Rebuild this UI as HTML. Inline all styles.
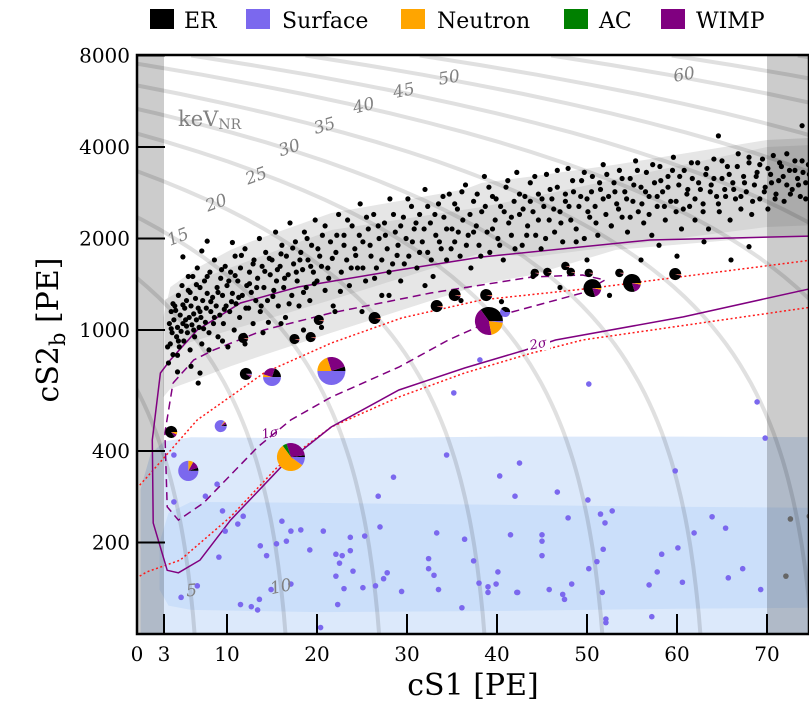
<!DOCTYPE html>
<html><head><meta charset="utf-8"><style>
html,body{margin:0;padding:0;background:#fff;}
svg{display:block;font-family:"DejaVu Serif","Liberation Serif",serif;}
</style></head><body>
<svg id="chart" width="809" height="710" viewBox="0 0 809 710" xmlns="http://www.w3.org/2000/svg">
<defs><clipPath id="plotclip"><rect x="137" y="55" width="672" height="579"/></clipPath></defs>
<g id="legend">
 <g><rect x="150" y="9" width="24" height="20" fill="#000"/><text x="184" y="28" font-size="22">ER</text></g>
 <g><rect x="246" y="9" width="24" height="20" fill="#7b68ee"/><text x="282" y="28" font-size="22">Surface</text></g>
 <g><rect x="401" y="9" width="24" height="20" fill="#ffa500"/><text x="437" y="28" font-size="22">Neutron</text></g>
 <g><rect x="564" y="9" width="24" height="20" fill="#008000"/><text x="599" y="28" font-size="22">AC</text></g>
 <g><rect x="661" y="9" width="24" height="20" fill="#800080"/><text x="696" y="28" font-size="22">WIMP</text></g>
</g>
<g id="plot" clip-path="url(#plotclip)"></g>
<rect x="137" y="55" width="672" height="579" fill="none" stroke="#000" stroke-width="2.5"/>
<g id="axes"></g>
<text x="473" y="695" font-size="30" text-anchor="middle">cS1 [PE]</text>
<text transform="translate(58,330) rotate(-90)" font-size="30" text-anchor="middle">cS2<tspan font-size="21" dy="7">b</tspan><tspan dy="-7"> [PE]</tspan></text>
</svg>
<script>
// ---------- data ----------
const xTicks = [0,3,10,20,30,40,50,60,70];
const yTicks = [200,400,1000,2000,4000,8000];
const energyKeV = [5,10,15,20,25,30,35,40,45,50,55,60,65,70,75,80];
const energyOffset = [7.6,17.7,28.1,39.8,52.9,63.8,76.2,89.8,101.6,114.3,127,141.6,155,169,183,197];
const erOuterX = [2.9,3.7,6.7,10.4,12.6,21.6,36.4,38.3,43.9,53.2,70,75];
const erOuterTop = [1100,1384,1600,1834,1950,2426,2900,3046,3200,3500,4217,4283];
const erOuterBot = [600,640,690,760,800,980,1355,1420,1517,1834,2023,2043];
const erInnerX = [3.1,6.7,21.6,38.3,43.9,70,75];
const erInnerTop = [1256,1460,2133,2539,2738,4000,4060];
const erInnerBot = [859,927,1256,1792,1738,2182,2210];
const surfOuterX = [0.4,1.5,3,6,20,40,60,75];
const surfOuterTop = [300,390,430,444,440,446,446,444];
const surfOuterBot = [80,80,80,80,80,80,80,80];
const surfInnerX = [2.5,3.5,6,20,40,60,75];
const surfInnerTop = [200,250,272,270,266,262,260];
const surfInnerBot = [140,124,120,118,119,121,122];
const sig2X = [75.1,57,38.3,29.1,17.9,11.5,6.7,3.7,2.6,1.7,1.8,3.35,4.6,7.0,10.4,16.0,21.6,29.1,36.4,43.1,46.5,60.7,75.1];
const sig2Y = [2038,1977,1738,1575,1385,1227,1000,797,722,435,232,162,159,175,237,354,480,635,750,859,927,1104,1374];
const sig1X = [4.0,6.3,8.5,14.1,21.6,32.7,43.9,49.5,52.0,49.5,41.3,34.6,29.1,21.6,17.1,13.4,7.4,4.6,3.35,3.1,4.0];
const sig1Y = [669,797,859,1000,1138,1324,1494,1517,1460,1324,1138,927,755,602,506,412,270,237,262,459,669];
const redUpX = [0.3,1.1,6.7,14.1,21.6,29.4,38.3,50.6,75.1];
const redUpY = [309,328,506,722,906,1095,1256,1374,1700];
const redLoX = [0.3,1.1,4.8,10.4,15.6,21.6,29.1,36.4,43.9,49.5,75.1];
const redLoY = [155,160,175,243,354,480,602,722,840,927,1191];
const surfacePts = [[4.1,388],[8.9,311],[7.6,284],[4.1,272],[9.5,254],[11.8,244],[11.2,230],[9.8,218],[16.1,235],[17.1,218],[18.2,220],[20.7,218],[13.7,195],[15.5,198],[16.6,202],[14.4,181],[9.1,179],[19.2,189],[22.1,183],[22.8,181],[23.7,188],[23.7,208],[25.3,210],[22.5,171],[24.0,161],[22.1,155],[27.4,152],[27.8,159],[26.5,144],[25.1,142],[23.0,141],[27.0,225],[26.8,284],[28.5,328],[34.4,388],[35.2,621],[38.1,797],[33.3,215],[36.4,205],[37.4,174],[32.4,177],[32.4,164],[33.0,156],[33.5,140],[38.0,147],[39.0,143],[39.0,137],[39.9,146],[40.1,160],[41.5,212],[42.0,284],[42.5,365],[40.3,331],[42.3,137],[36.1,122],[29.4,138],[22.3,125],[20.4,105],[17.1,146],[14.9,140],[13.6,130],[12.7,123],[13.4,120],[11.5,125],[6.7,144],[4.9,132],[50.2,664],[68.9,580],[69.8,441],[46.7,293],[50.1,276],[59.8,344],[47.9,241],[51.5,248],[52.8,254],[52.0,232],[63.9,243],[65.4,223],[61.9,215],[45.0,212],[45.0,202],[45.0,181],[51.8,190],[60.1,192],[58.3,183],[51.1,173],[50.2,164],[57.8,160],[67.3,164],[65.7,153],[60.6,148],[56.9,145],[48.3,146],[45.8,140],[47.3,135],[47.5,130],[51.7,137],[42.2,137],[69.3,140],[57.2,114],[52.1,112],[52.1,109]];
const surfaceOutPts = [[72.6,239],[74.7,244],[72.1,155]];
const erPts = [[3.6,1050],[3.7,900],[3.8,1150],[3.9,980],[4.0,830],[4.1,1080],[4.2,1200],[4.4,950],[4.5,1020],[4.6,1300],[4.7,880],[4.8,1120],[4.9,990],[5.0,1400],[5.1,1050],[5.2,920],[5.3,1180],[5.4,1080],[5.5,1250],[5.6,980],[5.7,1350],[5.8,1100],[5.9,860],[6.0,1200],[6.1,1040],[6.2,1500],[6.3,1130],[6.4,950],[6.5,1270],[6.6,1080],[6.7,1600],[6.8,1180],[6.9,1020],[7.0,1380],[7.1,1100],[7.2,900],[7.3,1250],[7.5,1450],[7.6,1060],[7.7,1180],[7.8,1320],[8.0,980],[8.1,1550],[8.2,1150],[8.4,1280],[8.5,1050],[8.6,1700],[8.8,1200],[8.9,1380],[9.0,950],[9.2,1120],[9.3,1480],[9.5,1300],[9.6,1050],[9.8,1620],[9.9,1200],[10.0,1400],[10.1,880],[10.3,1150],[10.4,1550],[10.6,1320],[10.8,1000],[10.9,1750],[11.0,1220],
[11.2,1450],[11.4,1100],[11.5,1600],[11.7,1300],[11.9,960],[12.0,1850],[12.2,1400],[12.4,1180],[12.5,1550],[12.7,1330],[12.9,1050],[13.0,1700],[13.2,1250],[13.4,1480],[13.6,2000],[13.7,1150],[13.9,1620],[14.1,1380],[14.3,1800],[14.5,1250],[14.6,1060],[14.8,1520],[15.0,1700],[15.2,1350],[15.4,2100],[15.5,1450],[15.7,1200],[15.9,1620],[16.1,1900],[16.3,1380],[16.5,1100],[16.6,1750],[16.8,1520],[17.0,2250],[17.2,1300],[17.4,1650],[17.6,1950],[17.8,1450],[18.0,1200],[18.2,1800],[18.4,1580],[18.6,2100],[18.8,1380],[19.0,1700],[19.2,1250],[19.4,1900],[19.6,1550],[19.8,2300],[20.0,1450],
[20.3,1750],[20.6,2050],[20.9,1350],[21.2,1600],[21.5,1950],[21.8,1200],[22.1,1800],[22.4,2400],[22.7,1550],[23.0,2050],[23.3,1700],[23.6,1400],[23.9,2200],[24.2,1850],[24.5,1600],[24.8,2600],[25.1,1950],[25.4,1450],[25.7,2150],[26.0,1750],[26.3,2400],[26.6,1600],[26.9,2000],[27.2,1300],[27.5,2250],[27.8,1850],[28.1,2700],[28.4,1650],[28.7,2100],[29.0,1900],[29.3,1450],[29.6,2350],[29.9,2000],[30.2,1750],[30.5,2550],[30.8,2150],[31.1,1600],[31.4,2400],[31.7,1950],[32.0,2900],[32.3,1800],[32.6,2250],[32.9,1500],[33.2,2050],[33.5,2600],[33.8,1850],[34.1,2350],[34.4,1700],[34.7,2800],
[35.0,2150],[35.3,1950],[35.6,2500],[35.9,1750],[36.2,2300],[36.5,3000],[36.8,2050],[37.1,1600],[37.4,2650],[37.7,2200],[38.0,1900],[38.3,2450],[38.6,3200],[38.9,2100],[39.2,1800],[39.5,2750],[39.8,2300],[40.1,2000],[40.4,2550],[40.7,1700],[41.0,2950],[41.3,2250],[41.6,2050],[41.9,2650],[42.2,3300],[42.5,2400],[42.8,1900],[43.1,2750],[43.4,2200],[43.7,3050],[44.0,2450],[44.3,2050],[44.6,2800],[44.9,1850],[45.2,2550],[45.5,3250],[45.8,2300],[46.1,2700],[46.4,2100],[46.7,2950],[47.0,2450],[47.3,1950],[47.6,2650],[47.9,3400],[48.2,2300],[48.5,2850],[48.8,2150],[49.1,2550],[49.4,3100],[49.7,2000],
[50.0,2700],[50.3,2350],[50.6,3200],[50.9,2550],[51.2,2050],[51.5,2900],[51.8,3500],[52.1,2400],[52.4,2750],[52.7,2200],[53.0,3050],[53.3,2600],[53.6,3350],[53.9,2350],[54.2,2850],[54.5,2100],[54.8,3150],[55.1,2650],[55.4,3600],[55.7,2450],[56.0,2950],[56.3,2250],[56.6,3300],[56.9,2750],[57.2,2050],[57.5,3050],[57.8,2550],[58.1,3450],[58.4,2850],[58.7,2300],[59.0,3200],[59.3,2650],[59.6,3700],[59.9,2450],[60.2,3000],[60.5,2150],[60.8,3350],[61.1,2800],[61.4,2550],[61.7,3150],[62.0,2300],[62.3,3550],[62.6,2900],[62.9,2600],[63.2,3250],[63.5,2150],[63.8,3000],[64.1,3650],[64.4,2750],[64.7,2450],[65.0,3150],[65.3,2900],[65.6,3450],[65.9,2300],[66.2,3050],[66.5,2700],[66.8,3800],[67.1,2500],[67.4,3200],[67.7,2850],[68.0,3550],[68.3,2400],[68.6,3000],[68.9,3300],[69.2,2700],[69.5,3650],[69.8,2950],[70.1,2500],[70.4,3250],[70.7,3750],[71.0,2800],[71.3,3100],[71.6,3450],[71.9,2650],[72.2,3000],[72.5,3350],[72.8,2900],[73.1,3600],[73.4,3150],[73.7,2750],[74.0,3300],[74.3,3050],[74.6,3500],
[64.6,4350],[73.9,4700],[10.6,1940],[7.8,1960],[7.2,1820],[5.1,1740],[7.0,722],[6.8,669],[4.5,728],[3.5,779],[4.5,826],[18.5,1000],[20.5,1020],[25,1150],[26.5,1100],[36,1250],[40.5,1240],[47,1380],[52.5,1300],[56,1700],[60,1750],[68,1880],[66,1700]];
const erPts2 = [[3.8,1010],[4.3,1160],[4.6,920],[5.1,1210],[5.5,1030],[5.9,1330],[6.3,1000],[6.6,1410],[7.0,1150],[7.4,1010],[7.8,1500],[8.2,1240],[8.6,1100],[9.0,1330],[9.4,1580],[9.7,1170],[10.2,1450],[10.5,1240],[10.9,1510],[11.3,1280],[11.6,1760],[12.1,1180],[12.5,1420],[12.9,1650],[13.3,1380],[13.8,1200],[14.2,1560],[14.7,1720],[15.1,1290],[15.6,1580],[16.0,1780],[16.4,1480],[16.9,1220],[17.3,1860],[17.7,1550],[18.1,1700],[18.5,1330],[18.9,2000],[19.3,1620],[19.7,1420],[20.1,1850],[20.5,1620],[20.9,2200],[21.3,1480],[21.7,1720],[22.2,2050],[22.6,1340],[23.0,1900],[23.4,2300],[23.8,1600],[24.3,1760],[24.7,2050],[25.1,1600],[25.5,2350],[25.9,1900],[26.4,1480],[26.8,2200],[27.2,1700],[27.6,2050],[28.0,1550],[28.5,2400],[28.9,1760],[29.3,2200],[29.7,1650],[30.1,2700],[30.6,1950],[31.0,2250],[31.4,1800],[31.9,2150],[32.3,2550],[32.7,1700],[33.1,2400],[33.6,1950],[34.0,2750],[34.4,2150],[34.9,1850],[35.3,2600],[35.7,2100],[36.1,2850],[36.6,1900],[37.0,2400],[37.4,2100],[37.8,2800],[38.2,1750],[38.7,2550],[39.1,2950],[39.5,2150],[39.9,2700],[40.3,1900],[40.8,2450],[41.2,3100],[41.6,2350],[42.0,1850],[42.5,2800],[42.9,2500],[43.3,2050],[43.7,2650],[44.2,3200],[44.6,2300],[45.0,2700],[45.4,2000],[45.9,2900],[46.3,2500],[46.7,3350],[47.1,2250],[47.6,2800],[48.0,2550],[48.4,3100],[48.8,1950],[49.3,2750],[49.7,3300],[50.1,2450],[50.5,2850],[51.0,2250],[51.4,3050],[51.8,2700],[52.2,3250],[52.7,2200],[53.1,2850],[53.5,2500],[53.9,3150],[54.4,2700],[54.8,2350],[55.2,3000],[55.6,3350],[56.1,2600],[56.5,2850],[56.9,2400],[57.3,3500],[57.8,2750],[58.2,3100],[58.6,2550],[59.0,2950],[59.5,3350],[59.9,2650],[60.3,3200],[60.7,2500],[61.2,2900],[61.6,3550],[62.0,2700],[62.4,3050],[62.9,2450],[63.3,3400],[63.7,2850],[64.1,3150],[64.6,2600],[65.0,3600],[65.4,2750],[65.8,3250],[66.3,2900],[66.7,3450],[67.1,2750],[67.5,3050],[68.0,3700],[68.4,2650],[68.8,3200],[69.2,3500],[69.7,2850],[70.1,3400],[70.5,3050],[70.9,2700],[71.4,3550],[71.8,3200],[72.2,3800],[72.6,2800],[73.1,3350],[73.5,3000],[73.9,3600],[74.3,2700],[74.7,3250],
[6.0,760],[8.0,860],[9.5,920],[12.0,900],[14.0,980],[16.0,1050],[22.0,1150],[28.0,1300],[32.0,1400],[44.0,1500],[50.0,1700],[58.0,1900],[63.0,1950],[3.4,880],[4.0,1220],[5.7,1500]];
const pieX = [3.8,5.7,9.3,12.1,15.0,21.6,17.1,39.1,40.9,38.8,33.3,35.3,26.4,19.3,17.5,20.2,50.6,55.0,59.8,44.2,45.6,47.6,48.2,50.2,53.6,11.8];
const pieY = [462,344,483,717,700,733,382,1071,1146,1303,1199,1303,1095,948,934,1079,1374,1428,1528,1541,1552,1624,1552,1541,1541,941];
const pieWeight = [0.43,0.72,0.43,0.43,0.64,1,1,1,0.36,0.43,0.43,0.43,0.43,0.36,0.36,0.36,0.64,0.64,0.43,0.3,0.3,0.3,0.3,0.3,0.3,0.36];
const fracER = [0.85,0.05,0.05,0.9,0.2,0.05,0.02,0.35,0.4,0.95,0.95,0.95,0.95,0.95,0.95,0.95,0.8,0.8,0.95,0.95,0.95,0.95,0.95,0.95,0.95,0.95];
const fracWIMP = [0.08,0.12,0.07,0.05,0.25,0.25,0.28,0.43,0,0.03,0.03,0.03,0.03,0.03,0.03,0.03,0.17,0.17,0.03,0.03,0.03,0.03,0.03,0.03,0.03,0.03];
const fracAC = [0,0,0,0,0,0,0.05,0,0,0,0,0,0,0,0,0,0,0,0,0,0,0,0,0,0,0];
const fracNeutron = [0.07,0.08,0.03,0.02,0.05,0.2,0.55,0.2,0,0.02,0.02,0.02,0.02,0.02,0.02,0.02,0.03,0.03,0.02,0.02,0.02,0.02,0.02,0.02,0.02,0.02];
const fracSurface = [0,0.75,0.85,0.03,0.5,0.5,0.1,0.02,0.6,0,0,0,0,0,0,0,0,0,0,0,0,0,0,0,0,0];

// ---------- scales ----------
const X = v => 137 + v * 9.0;
const Y = v => 634 - 304 * Math.log10(v / 100);
const NS = "http://www.w3.org/2000/svg";
const plot = document.getElementById('plot');
const axes = document.getElementById('axes');
function mk(tag, attrs, parent){const e=document.createElementNS(NS,tag);for(const k in attrs)e.setAttribute(k,attrs[k]);parent.appendChild(e);return e;}
function linePath(xs, ys){return xs.map((x,i)=>(i?'L':'M')+X(x).toFixed(1)+','+Y(ys[i]).toFixed(1)).join('');}
function bandPath(xs, top, bot){let d=linePath(xs,top);for(let i=xs.length-1;i>=0;i--)d+='L'+X(xs[i]).toFixed(1)+','+Y(bot[i]).toFixed(1);return d+'Z';}

let el;
el = mk('path',{d:bandPath(surfOuterX,surfOuterTop,surfOuterBot),fill:'#dce9fb'},plot);


el = mk('path',{d:bandPath(surfInnerX,surfInnerTop,surfInnerBot),fill:'#cbdffa'},plot);


el = mk('path',{d:bandPath(erOuterX,erOuterTop,erOuterBot),fill:'#e6e6e6'},plot);


el = mk('path',{d:bandPath(erInnerX,erInnerTop,erInnerBot),fill:'#d6d6d6'},plot);



const kRatio = 83.7;
energyKeV.forEach((E,i)=>{
  const xs=[], ys=[];
  for(let t=0;t<=60;t++){const s=100*Math.pow(80,t/60);xs.push(energyOffset[i]-s/kRatio);ys.push(s);}
  const p = mk('path',{d:linePath(xs,ys),fill:'none',stroke:'#000','stroke-opacity':0.12,'stroke-width':4},plot);
  
  
});

el = mk('rect',{x:X(0),y:55,width:X(3)-X(0),height:579,fill:'#000','fill-opacity':0.2},plot);


el = mk('rect',{x:X(70),y:55,width:809-X(70),height:579,fill:'#000','fill-opacity':0.2},plot);



el = mk('path',{d:linePath(redUpX,redUpY),fill:'none',stroke:'#ff1a1a','stroke-width':1.5,'stroke-dasharray':'2,2.5'},plot);


el = mk('path',{d:linePath(redLoX,redLoY),fill:'none',stroke:'#ff1a1a','stroke-width':1.5,'stroke-dasharray':'2,2.5'},plot);


el = mk('path',{d:linePath(sig2X,sig2Y),fill:'none',stroke:'#800080','stroke-width':1.5},plot);


el = mk('path',{d:linePath(sig1X,sig1Y),fill:'none',stroke:'#800080','stroke-width':1.5,'stroke-dasharray':'8,5'},plot);



surfacePts.forEach(p=>{
  const c=mk('circle',{cx:X(p[0]),cy:Y(p[1]),r:2.8,fill:'#7b68ee'},plot);
  
  
});
surfaceOutPts.forEach(p=>{
  const c=mk('circle',{cx:X(p[0]),cy:Y(p[1]),r:2.8,fill:'#666'},plot);
  
  
});
erPts.forEach(p=>{
  const c=mk('circle',{cx:X(p[0]),cy:Y(p[1]),r:2.6,fill:'#000'},plot);
  
  
});
erPts2.forEach(p=>{
  const c=mk('circle',{cx:X(p[0]),cy:Y(p[1]),r:2.6,fill:'#000'},plot);
  
  
});
const pieColors=['#000','#800080','#008000','#ffa500','#7b68ee'];
pieX.forEach((px,i)=>{
  const cx=X(px), cy=Y(pieY[i]), r=14*pieWeight[i];
  const fr=[fracER[i],fracWIMP[i],fracAC[i],fracNeutron[i],fracSurface[i]];
  const tot=fr.reduce((a,b)=>a+b,0);
  const g=mk('g',{},plot);
  
  
  let a0=0;
  fr.forEach((f,j)=>{
    if(f<=0)return;
    const a1=a0+f/tot*2*Math.PI;
    let w;
    if(f/tot>0.999){w=mk('circle',{cx:cx,cy:cy,r:r,fill:pieColors[j]},g);}
    else{
      const x0=cx+r*Math.cos(a0),y0=cy-r*Math.sin(a0),x1=cx+r*Math.cos(a1),y1=cy-r*Math.sin(a1);
      const large=(a1-a0)>Math.PI?1:0;
      w=mk('path',{d:`M${cx},${cy}L${x0.toFixed(2)},${y0.toFixed(2)}A${r},${r} 0 ${large} 0 ${x1.toFixed(2)},${y1.toFixed(2)}Z`,fill:pieColors[j]},g);
    }
    
    
    a0=a1;
  });
});

const annotations=[['15',180,242,-22],['20',218,208,-20],['25',258,181,-20],['30',291,153,-18],['35',326,131,-16],['40',365,111,-14],['45',405,96,-12],['50',450,83,-10],['60',685,80,-10],['5',192,596,-5],['10',282,592,-12]];
annotations.forEach(a=>{
  const t=mk('text',{x:a[1],y:a[2],'font-size':17,'font-style':'italic',fill:'#808080','text-anchor':'middle',transform:`rotate(${a[3]},${a[1]},${a[2]})`},plot);
  t.textContent=a[0];
  
  
});
el=mk('text',{x:178,y:126,'font-size':21,fill:'#808080'},plot);


el.innerHTML='keV<tspan font-size="14" dy="3">NR</tspan>';
el=mk('text',{x:271,y:437,'font-size':13,'font-style':'italic',fill:'#800080','text-anchor':'middle',transform:'rotate(-12,271,437)'},plot);
el.textContent='1σ';


el=mk('rect',{x:528,y:336,width:22,height:14,fill:'#fff'},plot);


el=mk('text',{x:539,y:348,'font-size':13,'font-style':'italic',fill:'#800080','text-anchor':'middle',transform:'rotate(-12,539,348)'},plot);
el.textContent='2σ';



xTicks.forEach(v=>{
  const x=X(v);
  if(v>0){const l=mk('line',{x1:x,y1:634,x2:x,y2:614,stroke:'#000','stroke-width':2},axes);
  
  }
  const t=mk('text',{x:x,y:661,'font-size':20,'text-anchor':'middle'},axes);
  t.textContent=v;
  
  
});
yTicks.forEach(v=>{
  const y=Y(v);
  const l=mk('line',{x1:137,y1:y,x2:165,y2:y,stroke:'#000','stroke-width':2},axes);
  
  
  const t=mk('text',{x:130,y:y+7,'font-size':20,'text-anchor':'end'},axes);
  t.textContent=v;
  
  
});
</script>
</body></html>
